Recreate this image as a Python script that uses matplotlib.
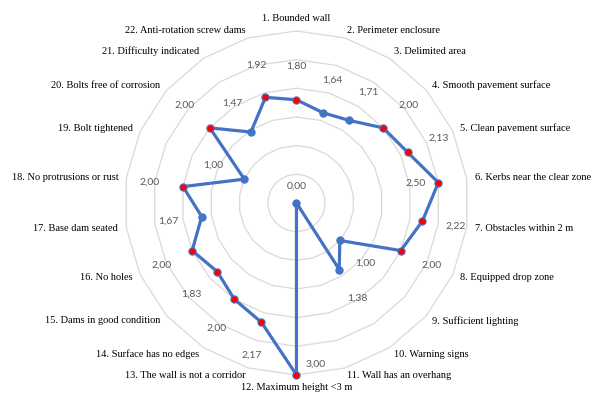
import numpy as np
import matplotlib
matplotlib.use("Agg")
import matplotlib.pyplot as plt

categories = [
    "1. Bounded wall", "2. Perimeter enclosure", "3. Delimited area",
    "4. Smooth pavement surface", "5. Clean pavement surface",
    "6. Kerbs near the clear zone", "7. Obstacles within 2 m",
    "8. Equipped drop zone", "9. Sufficient lighting", "10. Warning signs",
    "11. Wall has an overhang", "12. Maximum height <3 m",
    "13. The wall is not a corridor", "14. Surface has no edges",
    "15. Dams in good condition", "16. No holes", "17. Base dam seated",
    "18. No protrusions or rust", "19. Bolt tightened",
    "20. Bolts free of corrosion", "21. Difficulty indicated",
    "22. Anti-rotation screw dams",
]
values = [1.80, 1.64, 1.71, 2.00, 2.13, 2.50, 2.22, 2.00, 1.00, 1.38, 0.00,
          3.00, 2.17, 2.00, 1.83, 2.00, 1.67, 2.00, 1.00, 2.00, 1.47, 1.92]
highlight = [True, False, False, True, True, True, True, True, False, False, False,
             True, True, True, True, True, False, True, False, True, False, True]
ring_levels = [0.5, 1.0, 1.5, 2.0, 2.5, 3.0]

blue = "#4472C4"
n = len(categories)
theta = np.arange(n) * 2 * np.pi / n

fig = plt.figure(figsize=(5.92, 3.96), dpi=100)
ax = fig.add_axes([0.2103, 0.0530, 0.581, 0.869], projection="polar")
ax.set_theta_zero_location("N")
ax.set_theta_direction(-1)
ax.set_ylim(0, 3.0)
ax.grid(False)
ax.spines["polar"].set_visible(False)
ax.set_xticks([])
ax.set_yticks([])
ax.patch.set_alpha(0)

tc = np.append(theta, theta[0])
for lv in ring_levels:
    ax.plot(tc, [lv] * (n + 1), color="#D9D9D9", lw=0.9, zorder=1, clip_on=False)

vc = values + [values[0]]
ax.plot(tc, vc, color=blue, lw=2.3, zorder=3, clip_on=False)
for t, v, h in zip(theta, values, highlight):
    ax.plot([t], [v], marker="o", ms=5.2, mfc="#FF0000" if h else blue,
            mec=blue, mew=0.8, zorder=4, clip_on=False)

# value labels
special = {5: (-16, -0.7), 10: (0, 12), 11: (13.5, 8)}
for i, (t, v) in enumerate(zip(theta, values)):
    if i in special:
        off = special[i]
    else:
        off = (24.5 * np.sin(t), 24.5 * np.cos(t))
    ax.annotate(f"{v:.2f}".replace(".", ","), xy=(t, v), xytext=off,
                textcoords="offset points", ha="center", va="center",
                fontsize=7.5, color="#595959", family="Lato", zorder=5,
                annotation_clip=False)

# category labels
rl = 3.0 * 180 / 172
for t, lab in zip(theta, categories):
    deg = np.degrees(t)
    if abs(deg) < 1e-6:
        ha, va = "center", "bottom"
    elif abs(deg - 180) < 1e-6:
        ha, va = "center", "top"
    elif deg < 180:
        ha, va = "left", "center"
    else:
        ha, va = "right", "center"
    ax.text(t, rl, lab, ha=ha, va=va, fontsize=7.5, family="Liberation Serif",
            color="#000000", clip_on=False)

fig.savefig("out.png", dpi=100)
